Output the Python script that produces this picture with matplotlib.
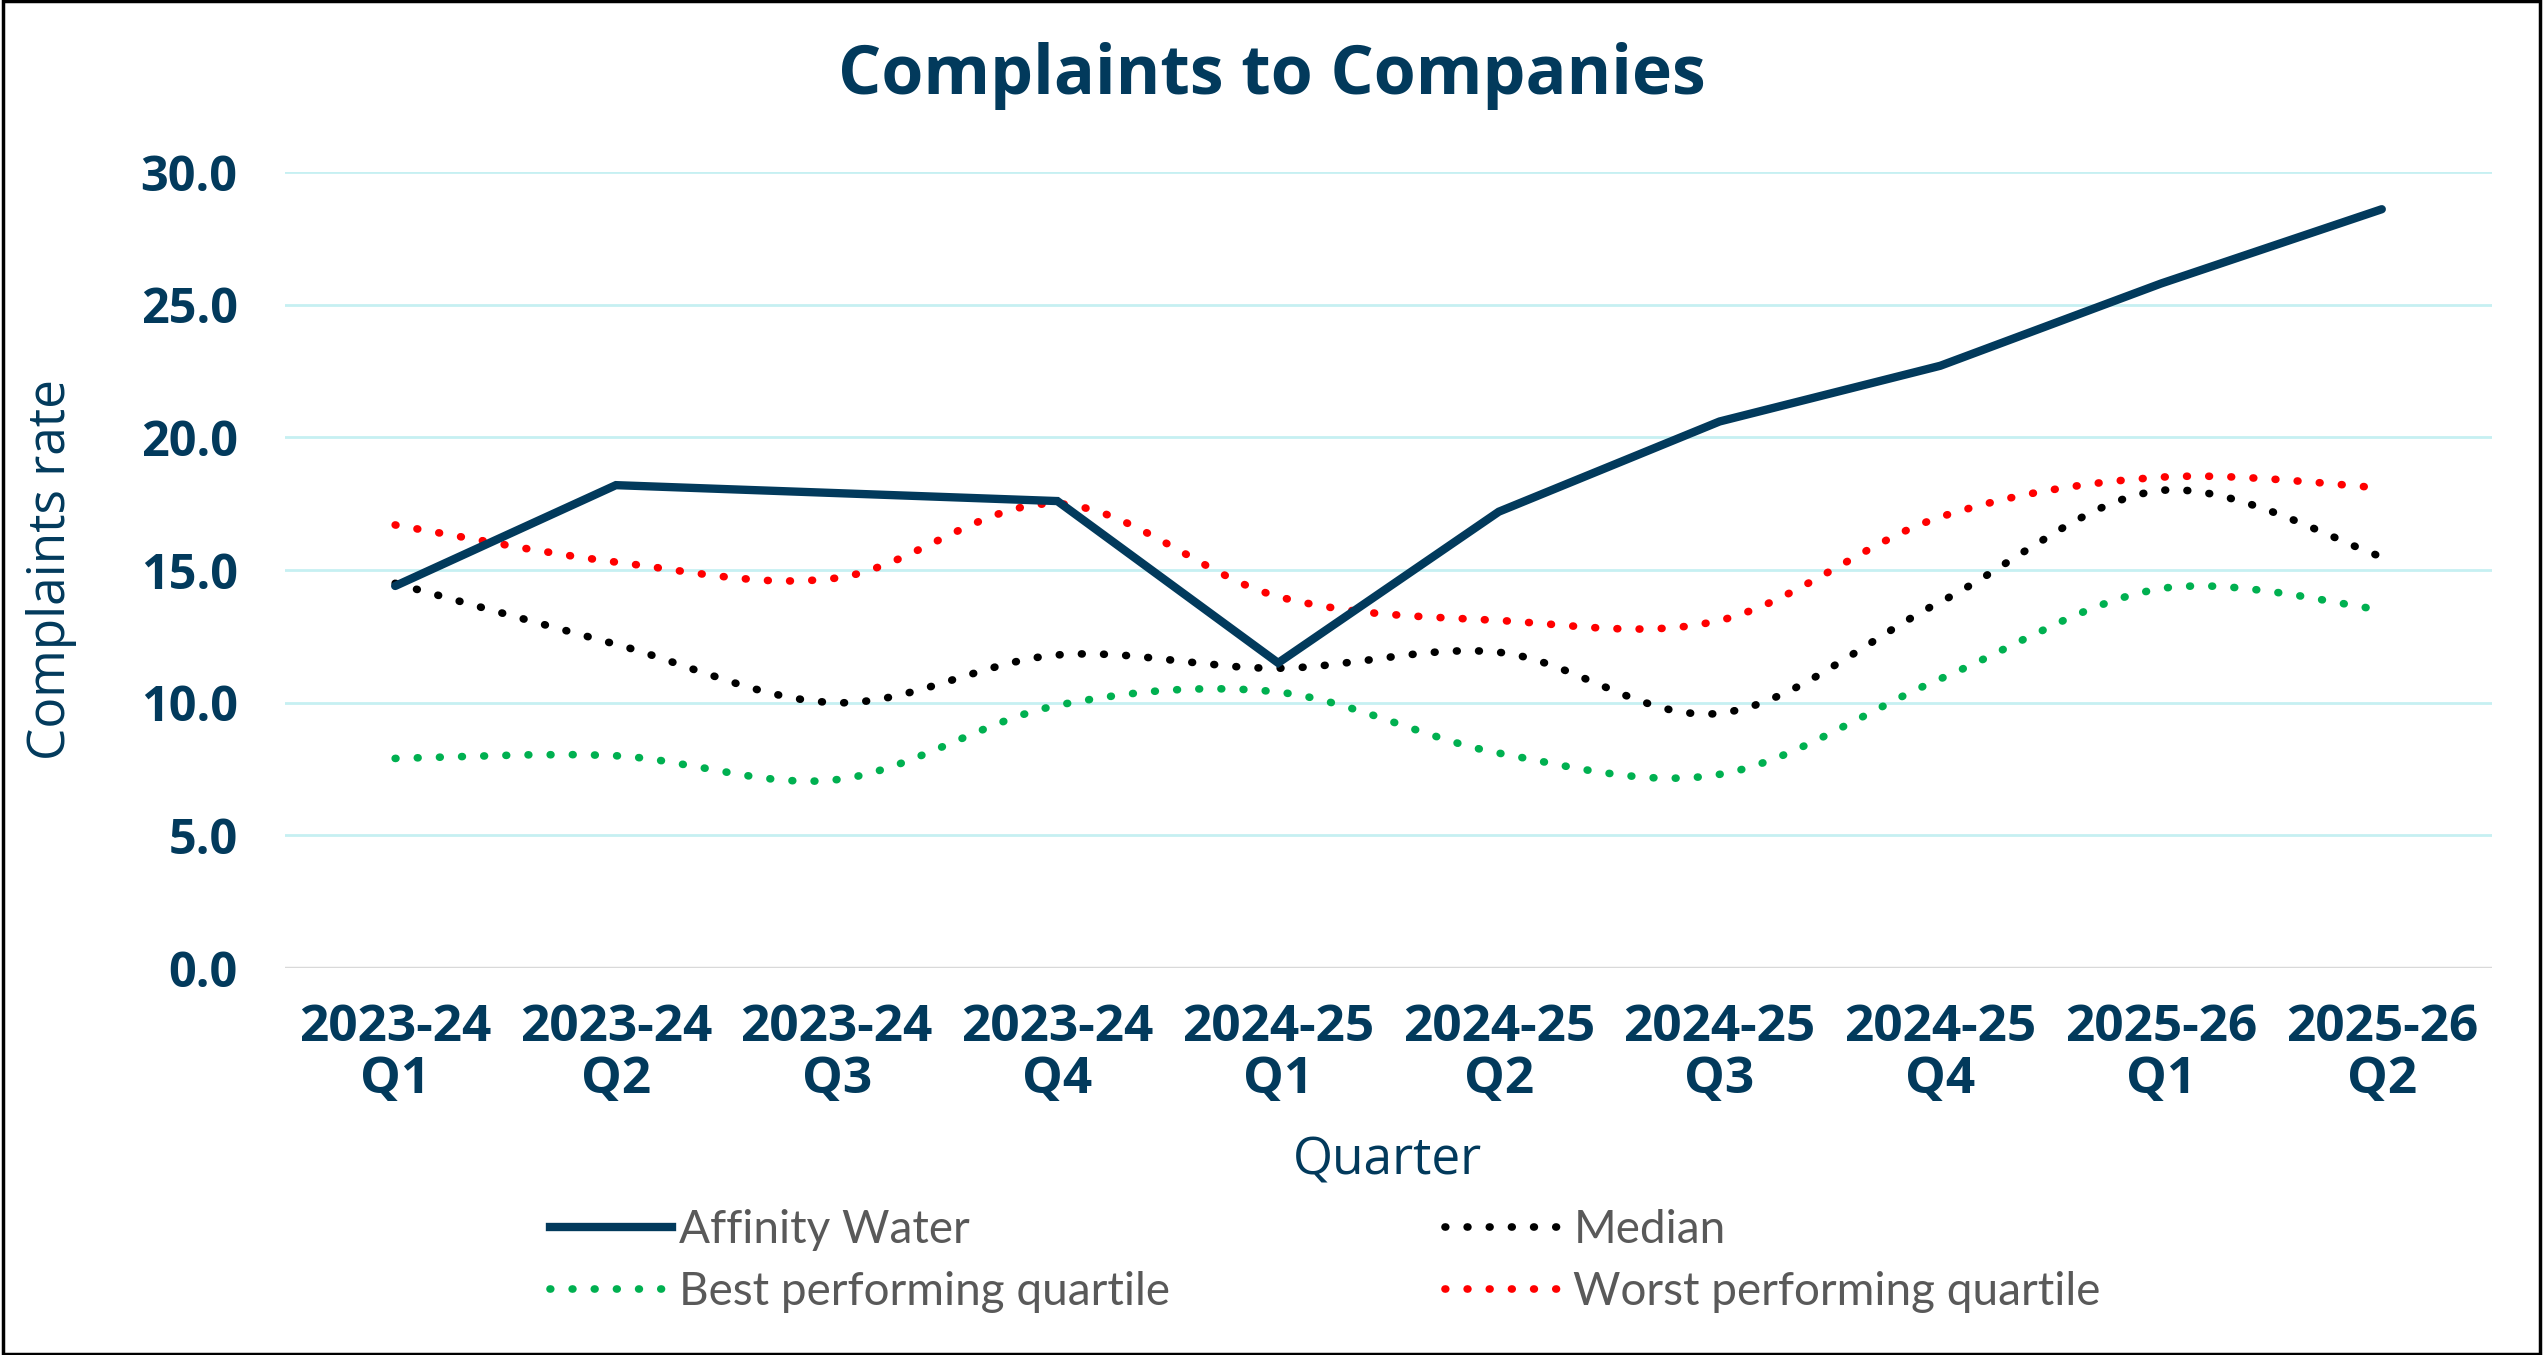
import matplotlib.pyplot as plt
from matplotlib.lines import Line2D
from matplotlib.patches import PathPatch, Rectangle
from matplotlib.path import Path

quarters = ["2023-24\nQ1", "2023-24\nQ2", "2023-24\nQ3", "2023-24\nQ4",
            "2024-25\nQ1", "2024-25\nQ2", "2024-25\nQ3", "2024-25\nQ4",
            "2025-26\nQ1", "2025-26\nQ2"]
affinity = [14.4, 18.2, 17.9, 17.6, 11.5, 17.2, 20.6, 22.7, 25.8, 28.6]
median = [14.5, 12.2, 10.0, 11.8, 11.3, 11.9, 9.6, 13.8, 18.0, 15.5]
best_quartile = [7.9, 8.0, 7.1, 9.9, 10.4, 8.1, 7.3, 10.9, 14.3, 13.5]
worst_quartile = [16.7, 15.3, 14.7, 17.5, 14.0, 13.1, 13.1, 17.0, 18.5, 18.1]
yticks = [0, 5, 10, 15, 20, 25, 30]

NAVY = "#023a5c"
GREY = "#595959"
BOLD_FONT = ["Open Sans", "DejaVu Sans"]
LABEL_FONT = ["Open Sans", "DejaVu Sans"]
LEGEND_FONT = ["Lato", "DejaVu Sans"]


def smooth_path(xs, ys):
    # Excel-style smoothed line as cubic bezier segments
    pts = list(zip(xs, ys))
    verts = [pts[0]]
    codes = [Path.MOVETO]
    n = len(pts)
    for i in range(n - 1):
        p0 = pts[max(i - 1, 0)]
        p1 = pts[i]
        p2 = pts[i + 1]
        p3 = pts[min(i + 2, n - 1)]
        c1 = (p1[0] + (p2[0] - p0[0]) / 6, p1[1] + (p2[1] - p0[1]) / 6)
        c2 = (p2[0] - (p3[0] - p1[0]) / 6, p2[1] - (p3[1] - p1[1]) / 6)
        verts += [c1, c2, p2]
        codes += [Path.CURVE4] * 3
    return Path(verts, codes)


def main() -> None:
    fig = plt.figure(figsize=(25.43, 13.55), dpi=100)
    ax = fig.add_axes([0.112, 0.2856, 0.868, 0.5874])
    x = list(range(len(quarters)))

    dots = (0, (0.1, 2.8))
    for vals, color in [(best_quartile, "#00b050"), (worst_quartile, "#ff0000"),
                        (median, "#000000")]:
        patch = PathPatch(smooth_path(x, vals), fill=False, edgecolor=color,
                          linewidth=5.5, linestyle=dots, capstyle="round", zorder=3)
        ax.add_patch(patch)
    ax.plot(x, affinity, color=NAVY, linewidth=6, solid_joinstyle="miter",
            solid_capstyle="round", zorder=4)

    ax.set_xlim(-0.5, len(quarters) - 0.5)
    ax.set_ylim(0, 30)
    ax.set_yticks(yticks)
    ax.set_yticklabels([f"{v:.1f}" for v in yticks])
    ax.set_xticks(x)
    ax.set_xticklabels(quarters, linespacing=1.05)
    for lab in ax.get_yticklabels():
        lab.set_fontsize(35)
    for lab in ax.get_xticklabels():
        lab.set_fontsize(37)
    for lab in ax.get_xticklabels() + ax.get_yticklabels():
        lab.set_family(BOLD_FONT)
        lab.set_fontweight("bold")
        lab.set_color(NAVY)
    ax.tick_params(axis="y", length=0, pad=34)
    ax.tick_params(axis="x", length=0, pad=25)

    for v in yticks[1:]:
        ax.axhline(v, color="#c6f0f2", linewidth=2, zorder=1)
    ax.axhline(0, color="#d9d9d9", linewidth=2.5, zorder=1)
    for side in ax.spines.values():
        side.set_visible(False)

    ax.set_ylabel("Complaints rate", family=LABEL_FONT, fontweight="normal",
                  fontsize=37, color=NAVY)
    ax.yaxis.set_label_coords(-0.094, 0.5)
    fig.text(0.5457, 1 - 1161 / 1355, "Quarter", family=LABEL_FONT,
             fontweight="normal", fontsize=37, color=NAVY, ha="center", va="center")
    fig.text(0.5, 1 - 76 / 1355, "Complaints to Companies", family=BOLD_FONT,
             fontweight="bold", fontsize=49, color=NAVY, ha="center", va="center")

    handles = [
        Line2D([], [], color=NAVY, linewidth=6),
        Line2D([], [], color="#00b050", linewidth=5.5, linestyle=dots,
               dash_capstyle="round"),
        Line2D([], [], color="#000000", linewidth=5.5, linestyle=dots,
               dash_capstyle="round"),
        Line2D([], [], color="#ff0000", linewidth=5.5, linestyle=dots,
               dash_capstyle="round"),
    ]
    labels = ["Affinity Water", "Best performing quartile", "Median",
              "Worst performing quartile"]
    leg = fig.legend(handles, labels, ncol=2, loc="center left",
                     bbox_to_anchor=(0.2, 1 - 1261 / 1355), frameon=False,
                     handlelength=2.66, handletextpad=0.15, columnspacing=6.0,
                     labelspacing=0.45,
                     prop={"family": LEGEND_FONT, "size": 33})
    for t in leg.get_texts():
        t.set_color(GREY)

    fig.add_artist(Rectangle((0.001, 0.001), 0.998, 0.998, transform=fig.transFigure,
                             fill=False, edgecolor="black", linewidth=2.5))

    fig.savefig("out.png", dpi=100)
    plt.close(fig)


if __name__ == "__main__":
    main()
